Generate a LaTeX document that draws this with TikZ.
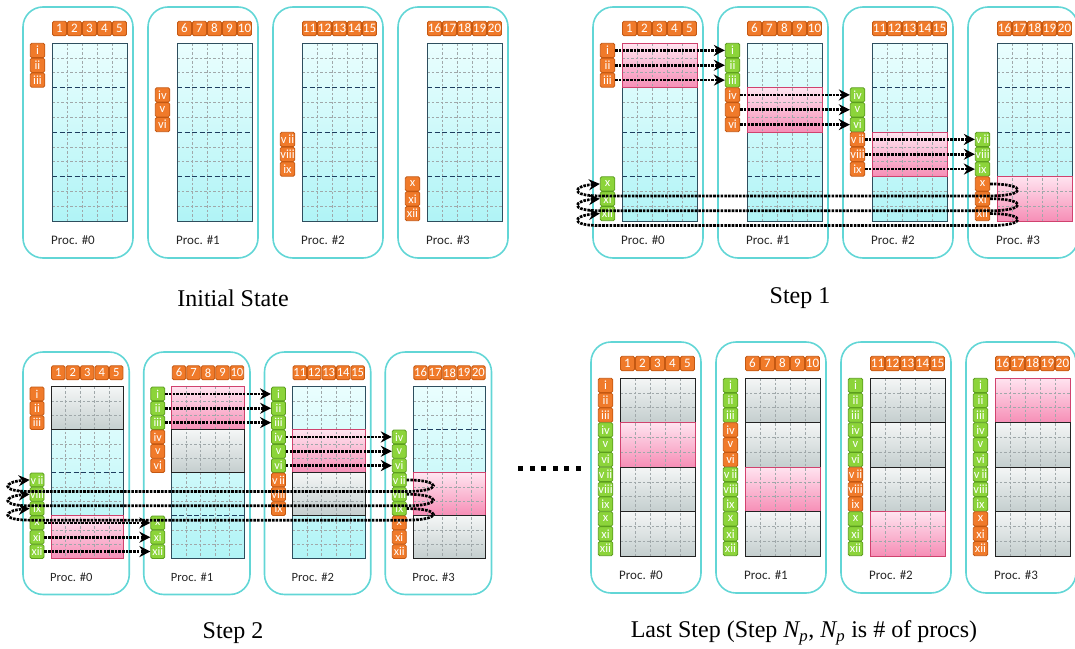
\documentclass[tikz,border=0pt]{standalone}
\usepackage{fontspec}
\setmainfont{Carlito}
\newfontfamily\capfont{Liberation Serif}
\usetikzlibrary{arrows.meta,calc}

\definecolor{framecol}{RGB}{98,214,214}
\definecolor{orfill}{RGB}{240,122,42}
\definecolor{ordraw}{RGB}{196,88,18}
\definecolor{grfill}{RGB}{140,212,58}
\definecolor{grdraw}{RGB}{92,158,30}
\definecolor{gridline}{RGB}{46,78,94}
\definecolor{sepline}{RGB}{30,62,96}
\definecolor{celldash}{RGB}{160,168,170}
\definecolor{cyantop}{RGB}{234,254,254}
\definecolor{cyanbot}{RGB}{176,244,246}
\definecolor{pinktop}{RGB}{255,228,240}
\definecolor{pinkbot}{RGB}{246,142,182}
\definecolor{pinkline}{RGB}{208,66,110}
\definecolor{greytop}{RGB}{244,246,246}
\definecolor{greybot}{RGB}{196,206,206}
\definecolor{greyline}{RGB}{34,34,34}

\tikzset{
  procframe/.style={draw=framecol, line width=1.6pt, rounded corners=20pt},
  hdr/.style={fill=orfill, draw=ordraw, line width=0.8pt, rounded corners=1.5pt,
    minimum width=14pt, minimum height=14.5pt, inner sep=0pt, text=white,
    font=\fontsize{13}{13}\selectfont},
  labo/.style={fill=orfill, draw=ordraw, line width=0.8pt, rounded corners=1.5pt,
    minimum width=14.5pt, minimum height=14.3pt, inner sep=0pt, text=white,
    font=\fontsize{12.5}{13}\selectfont},
  labg/.style={labo, fill=grfill, draw=grdraw},
  procname/.style={font=\fontsize{13}{14}\selectfont, text=black!85},
  shadec/.style={},
  shadep/.style={shade, top color=pinktop, bottom color=pinkbot},
  shadeg/.style={shade, top color=greytop, bottom color=greybot},
  edgec/.style={},
  edgep/.style={draw=pinkline, line width=0.8pt},
  edgeg/.style={draw=greyline, line width=0.8pt},
  cellgrid/.style={draw=celldash, line width=0.6pt, dash pattern=on 2.5pt off 2pt},
  blocksep/.style={draw=sepline, line width=0.9pt, dash pattern=on 5pt off 2.5pt},
  gridbox/.style={draw=gridline, line width=0.9pt},
  xfer/.style={line width=2.7pt, dash pattern=on 2.6pt off 1.1pt,
    -{Stealth[length=11pt,width=11pt]}},
  caption/.style={font=\capfont\fontsize{24}{28}\selectfont},
}

% roman row names
\newcommand\rowname[1]{\ifcase#1 i\or ii\or iii\or iv\or v\or vi\or v\,ii\or viii\or ix\or x\or xi\or xii\fi}

% one processor: #1 prefix, #2 index, #3 block fills (c/p/g), #4 row labels (o/g/n)
\newcommand\procunit[4]{%
  \begin{scope}[shift={(125*#2,0)}]
    \draw[procframe] (0,0) rectangle (110,251);
    \shade[top color=cyantop, bottom color=cyanbot] (29,36) rectangle (104,214);
    \foreach \bk [count=\kk from 0] in {#3}
      \path[shade\bk] (29,{36+44.5*\kk}) rectangle (104,{80.5+44.5*\kk});
    \foreach \kk in {1,...,4}
      \draw[cellgrid] ({29+15*\kk},36) -- ({29+15*\kk},214);
    \foreach \rr in {1,2,4,5,7,8,10,11}
      \draw[cellgrid] (29,{36+14.833*\rr}) -- (104,{36+14.833*\rr});
    \foreach \rr in {3,6,9}
      \draw[blocksep] (29,{36+14.833*\rr}) -- (104,{36+14.833*\rr});
    \draw[gridbox] (29,36) rectangle (104,214);
    \foreach \bk [count=\kk from 0] in {#3}
      \path[edge\bk] (29,{36+44.5*\kk}) rectangle (104,{80.5+44.5*\kk});
    \foreach \jj in {0,...,4}
      \node[hdr] (#1#2h\jj) at ({36.5+15*\jj},21.5) {\number\numexpr5*#2+\jj+1\relax};
    \foreach \lc [count=\rr from 0] in {#4}{%
      \if\lc n\else
        \node[lab\lc] (#1#2-\rr) at (14.5,{36+14.833*(\rr+0.5)}) {\rowname{\rr}};
      \fi}
    \node[procname] (#1#2name) at (50,233) {Proc. \##2};
  \end{scope}}

% transfer that wraps from the last processor back to the first
\newcommand\wrapxfer[2]{%
  \draw[xfer] (#1.east) .. controls ($(#1.east)+(37,0)$) and ($(#1.east)+(37,12)$)
    .. ($(#1.east)+(0,12)$) -- ($(#2.west)+(0,12)$)
    .. controls ($(#2.west)+(-31,12)$) and ($(#2.west)+(-27,2)$) .. (#2.west);}

\begin{document}
\begin{tikzpicture}[x=1pt,y=-1pt]
\useasboundingbox (0,0) rectangle (1075,648);

% ---------- initial state ----------
\begin{scope}[shift={(23,7)}]
  \procunit{A}{0}{c,c,c,c}{o,o,o,n,n,n,n,n,n,n,n,n}
  \procunit{A}{1}{c,c,c,c}{n,n,n,o,o,o,n,n,n,n,n,n}
  \procunit{A}{2}{c,c,c,c}{n,n,n,n,n,n,o,o,o,n,n,n}
  \procunit{A}{3}{c,c,c,c}{n,n,n,n,n,n,n,n,n,o,o,o}
\end{scope}

% ---------- step 1 ----------
\begin{scope}[shift={(593,7)}]
  \procunit{B}{0}{p,c,c,c}{o,o,o,n,n,n,n,n,n,g,g,g}
  \procunit{B}{1}{c,p,c,c}{g,g,g,o,o,o,n,n,n,n,n,n}
  \procunit{B}{2}{c,c,p,c}{n,n,n,g,g,g,o,o,o,n,n,n}
  \procunit{B}{3}{c,c,c,p}{n,n,n,n,n,n,g,g,g,o,o,o}
  \foreach \rr in {0,1,2} \draw[xfer] (B0-\rr.east) -- (B1-\rr.west);
  \foreach \rr in {3,4,5} \draw[xfer] (B1-\rr.east) -- (B2-\rr.west);
  \foreach \rr in {6,7,8} \draw[xfer] (B2-\rr.east) -- (B3-\rr.west);
  \foreach \rr in {9,10,11} {\wrapxfer{B3-\rr}{B0-\rr}}
\end{scope}

% ---------- step 2 ----------
\begin{scope}[shift={(23,352)}, scale=0.966, transform shape]
  \procunit{C}{0}{g,c,c,p}{o,o,o,n,n,n,g,g,g,g,g,g}
  \procunit{C}{1}{p,g,c,c}{g,g,g,o,o,o,n,n,n,g,g,g}
  \procunit{C}{2}{c,p,g,c}{g,g,g,g,g,g,o,o,o,n,n,n}
  \procunit{C}{3}{c,c,p,g}{n,n,n,g,g,g,g,g,g,o,o,o}
  \foreach \rr in {9,10,11} \draw[xfer] (C0-\rr.east) -- (C1-\rr.west);
  \foreach \rr in {0,1,2} \draw[xfer] (C1-\rr.east) -- (C2-\rr.west);
  \foreach \rr in {3,4,5} \draw[xfer] (C2-\rr.east) -- (C3-\rr.west);
  \foreach \rr in {6,7,8} {\wrapxfer{C3-\rr}{C0-\rr}}
\end{scope}

% ---------- last step ----------
\begin{scope}[shift={(591,342)}]
  \procunit{D}{0}{g,p,g,g}{o,o,o,g,g,g,g,g,g,g,g,g}
  \procunit{D}{1}{g,g,p,g}{g,g,g,o,o,o,g,g,g,g,g,g}
  \procunit{D}{2}{g,g,g,p}{g,g,g,g,g,g,o,o,o,g,g,g}
  \procunit{D}{3}{p,g,g,g}{g,g,g,g,g,g,g,g,g,o,o,o}
\end{scope}

% ellipsis between step 2 and the last step
\foreach \ii in {0,...,5}
  \fill ({518+11.5*\ii},465.5) rectangle ++(5,5);

% captions
\node[caption] (cap1) at (233,298) {Initial State};
\node[caption] (cap2) at (800,298) {Step 1};
\node[caption] (cap3) at (233,633) {Step 2};
\node[caption] (cap4) at (804,633)
  {Last Step (Step {\itshape N}\textsubscript{\itshape p}, {\itshape N}\textsubscript{\itshape p} is \# of procs)};
\end{tikzpicture}
\end{document}
